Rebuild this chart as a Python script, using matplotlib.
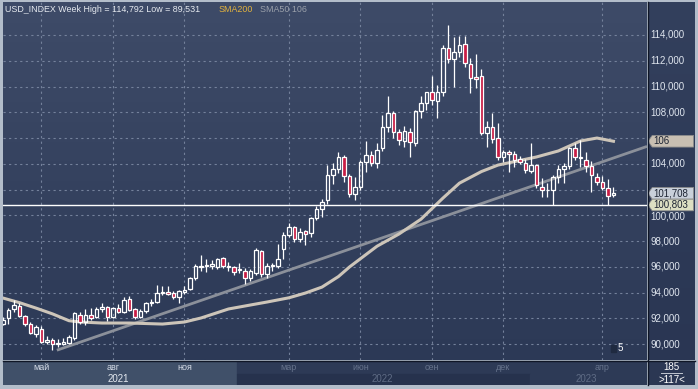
import numpy as np
import matplotlib
matplotlib.use('Agg')
import matplotlib.pyplot as plt
from matplotlib.patches import Rectangle, Polygon
from matplotlib.colors import LinearSegmentedColormap

plt.rcParams['font.family'] = ['Liberation Sans', 'DejaVu Sans']

# weekly USD index candles
opens = [91.6, 92.0, 92.7, 92.97, 92.2, 91.6, 90.8, 91.2, 90.2, 90.3,
         90.0, 90.0, 90.1, 90.5, 92.3, 91.7, 92.25, 92.1, 92.7, 92.9,
         92.1, 92.8, 92.5, 93.5, 92.7, 92.1, 92.55, 93.2, 93.3, 94.0,
         94.05, 94.0, 93.65, 94.05, 94.3, 95.1, 96.0, 96.12, 96.1, 96.0,
         96.7, 96.05, 96.0, 95.75, 95.7, 95.1, 95.55, 97.2, 95.45, 96.05,
         96.1, 97.4, 98.5, 99.1, 98.15, 98.8, 98.6, 99.8, 100.5, 101.2,
         103.1, 103.6, 104.5, 103.05, 101.65, 102.2, 104.15, 104.7, 104.05, 105.2,
         106.85, 107.95, 106.5, 105.8, 106.5, 105.6, 108.1, 108.7, 109.55, 108.9,
         109.55, 113.0, 112.15, 112.7, 113.3, 111.75, 110.7, 110.8, 106.4, 106.85,
         106.0, 104.5, 104.9, 104.75, 104.4, 104.05, 103.45, 103.9, 102.2, 101.95,
         101.95, 103.0, 103.6, 103.85, 105.2, 104.52, 104.3, 103.85, 103.0, 102.6,
         102.1, 101.6]
highs = [92.1, 92.8, 93.4, 93.2, 92.3, 91.7, 91.5, 91.4, 90.6, 90.5,
         90.4, 90.5, 90.7, 92.5, 92.5, 92.7, 92.8, 92.9, 93.2, 93.0,
         92.9, 93.1, 93.65, 93.7, 92.8, 92.7, 93.3, 93.5, 94.6, 94.5,
         94.5, 94.1, 94.2, 94.5, 95.2, 96.2, 96.9, 96.6, 96.5, 96.7,
         96.8, 96.4, 96.1, 96.3, 95.9, 95.8, 97.45, 97.3, 96.3, 96.3,
         97.8, 98.7, 99.4, 99.2, 99.0, 98.9, 99.9, 100.7, 101.3, 103.9,
         104.1, 104.9, 104.7, 103.2, 103.0, 104.3, 105.8, 105.0, 105.6, 107.8,
         109.3, 108.1, 106.7, 106.95, 106.8, 108.2, 109.3, 109.6, 110.8, 110.1,
         113.2, 114.79, 113.85, 113.9, 113.9, 112.2, 112.5, 111.35, 107.3, 107.95,
         107.2, 105.1, 105.1, 105.0, 104.6, 104.4, 105.6, 104.0, 102.9, 102.5,
         103.1, 103.9, 104.1, 105.3, 105.6, 105.85, 104.9, 104.2, 103.3, 103.05,
         102.8, 102.2]
lows = [91.5, 91.6, 92.5, 92.1, 91.4, 90.8, 90.55, 90.1, 90.0, 89.53,
        89.8, 89.9, 90.0, 90.3, 91.6, 91.5, 91.9, 92.0, 92.5, 91.8,
        92.0, 92.4, 92.4, 92.6, 91.95, 92.0, 92.4, 93.0, 93.2, 93.8,
        93.8, 93.5, 93.2, 93.9, 94.2, 95.0, 95.7, 95.6, 95.8, 95.8,
        95.9, 95.7, 95.4, 95.5, 94.7, 94.9, 95.4, 95.2, 95.1, 95.7,
        95.9, 96.6, 98.3, 97.9, 97.9, 97.7, 98.3, 99.6, 99.9, 100.9,
        102.4, 103.3, 102.6, 101.4, 101.2, 102.0, 103.4, 103.8, 103.7, 105.0,
        106.5, 106.0, 105.45, 105.3, 104.5, 105.4, 107.55, 108.2, 108.6, 107.55,
        109.25, 111.8, 110.0, 112.3, 111.5, 109.5, 109.9, 106.25, 105.3, 105.6,
        104.3, 104.15, 103.4, 103.75, 104.0, 103.3, 103.3, 102.1, 101.4, 101.4,
        100.8, 102.5, 102.5, 103.6, 104.3, 103.75, 103.4, 101.8, 102.35, 102.0,
        100.8, 101.4]
closes = [91.9, 92.65, 93.04, 92.2, 91.6, 90.9, 91.3, 90.2, 90.3, 90.0,
          90.1, 90.15, 90.55, 92.4, 91.7, 92.25, 92.0, 92.7, 92.9, 92.1,
          92.8, 92.5, 93.4, 92.65, 92.1, 92.55, 93.2, 93.3, 94.0, 94.05,
          93.9, 93.65, 94.1, 94.2, 95.1, 96.1, 96.05, 96.08, 96.2, 96.6,
          96.1, 96.0, 95.6, 95.85, 95.1, 95.7, 97.3, 95.45, 96.1, 96.15,
          96.6, 98.5, 99.1, 98.2, 98.7, 98.55, 99.8, 100.5, 101.0, 103.1,
          103.6, 104.5, 103.05, 101.65, 102.2, 104.15, 104.7, 104.05, 105.1, 106.85,
          107.95, 106.5, 105.85, 106.55, 105.7, 108.1, 108.7, 109.55, 108.95, 109.55,
          113.0, 112.15, 112.7, 113.2, 111.8, 110.65, 110.62, 106.4, 106.85, 105.9,
          104.5, 104.9, 104.75, 104.3, 104.15, 103.5, 103.9, 102.35, 101.95, 101.98,
          103.0, 103.6, 103.85, 105.2, 104.5, 104.48, 103.85, 103.1, 102.6, 102.1,
          101.5, 101.708]

# SMA50 line (bar index, value)
sma50_idx = [0, 3, 6, 9, 12, 14, 18, 23, 29, 33, 36, 41, 45, 48, 52, 55,
             58, 61, 63, 68, 72, 76, 80, 83, 87, 90, 97, 101, 105, 108, 111]
sma50_val = [93.58, 93.22, 92.8, 92.35, 91.82, 91.72, 91.64, 91.64, 91.56,
             91.72, 92.03, 92.73, 93.04, 93.27, 93.6, 93.97, 94.43, 95.25,
             95.99, 97.6, 98.55, 99.7, 101.34, 102.5, 103.4, 103.9, 104.53,
             105.0, 105.77, 106.0, 105.75]
# SMA200 line (straight, from the low to the right edge)
sma200_idx = [9.8, 117.1]
sma200_val = [89.53, 105.35]

low_line = 100.803
y_ticks = [90, 92, 94, 96, 98, 100, 102, 104, 106, 108, 110, 112, 114]
month_pos = [7, 20, 33, 52, 65, 78, 91, 109]
month_labels = ['май', 'авг', 'ноя', 'мар', 'июн', 'сен', 'дек', 'апр']
year_pos = [21, 69, 106]
year_labels = ['2021', '2022', '2023']

W, H = 698, 389
XMIN, XMAX = 0.0, 117.1
YMIN, YMAX = 88.77, 116.56

def fbox(x0, y0, x1, y1):
    # pixel box (top-left origin) -> figure fraction rect
    return [x0 / W, 1 - y1 / H, (x1 - x0) / W, (y1 - y0) / H]

def bare(a):
    a.set_xticks([])
    a.set_yticks([])
    for s in a.spines.values():
        s.set_visible(False)

fig = plt.figure(figsize=(W / 100, H / 100), dpi=100, facecolor='#b3bdca')

ax = fig.add_axes(fbox(3, 2, 647, 360))
ax.set_xlim(XMIN, XMAX)
ax.set_ylim(YMIN, YMAX)
grad = np.linspace(0, 1, 256).reshape(-1, 1)
bg_cmap = LinearSegmentedColormap.from_list('bg', ['#3e4b68', '#2c3956'])
ax.imshow(grad, cmap=bg_cmap, aspect='auto', extent=(XMIN, XMAX, YMIN, YMAX),
          origin='upper', zorder=0)
bare(ax)

grid_kw = dict(color='#74819b', lw=0.8, linestyle=(0, (2, 3)), zorder=1)
for v in y_ticks:
    ax.axhline(v, **grid_kw)
for p in month_pos:
    ax.axvline(p, **grid_kw)

# lines
ax.plot(sma200_idx, sma200_val, color='#8b909a', lw=2.0, zorder=2, solid_capstyle='butt')
ax.plot(sma50_idx, sma50_val, color='#cdc5b9', lw=2.2, zorder=2)
ax.axhline(low_line, color='white', lw=1.0, zorder=5)

# candles
o = np.array(opens)
c = np.array(closes)
hi = np.array(highs)
lo = np.array(lows)
idx = np.arange(len(c))
up = c >= o
top = np.maximum(o, c)
bot = np.minimum(o, c)
ax.vlines(idx, top, hi, color='white', lw=0.9, zorder=3)
ax.vlines(idx, lo, bot, color='white', lw=0.9, zorder=3)
hgt = np.maximum(top - bot, 0.03)
ax.bar(idx[up], hgt[up], bottom=bot[up], width=0.65, facecolor='none',
       edgecolor='white', lw=0.9, zorder=4)
ax.bar(idx[~up], hgt[~up], bottom=bot[~up], width=0.65, facecolor='#c91d45',
       edgecolor='white', lw=0.9, zorder=4)

# header text
ax.text(0.003, 0.978, 'USD_INDEX Week High = 114,792 Low = 89,531', transform=ax.transAxes,
        color='#e6eaf0', fontsize=6.4, va='center', ha='left')
ax.text(0.335, 0.978, 'SMA200', transform=ax.transAxes, color='#e2b23e',
        fontsize=6.4, va='center', ha='left')
ax.text(0.399, 0.978, 'SMA50 106', transform=ax.transAxes, color='#9ba1ab',
        fontsize=6.4, va='center', ha='left')
ax.add_patch(Rectangle((0.944, 0.022), 0.008, 0.02, transform=ax.transAxes,
                       color='#1f2a40', zorder=6))
ax.text(0.955, 0.02, '5', transform=ax.transAxes, color='white', fontsize=7,
        va='bottom', ha='left', zorder=7)

# right price axis
rax = fig.add_axes(fbox(648, 2, 695, 360))
rax.set_xlim(0, 1)
rax.set_ylim(YMIN, YMAX)
rbg = LinearSegmentedColormap.from_list('rbg', ['#33405d', '#2a3653'])
rax.imshow(grad, cmap=rbg, aspect='auto', extent=(0, 1, YMIN, YMAX), origin='upper', zorder=0)
bare(rax)

tags = [(sma50_val[-1], '%d' % round(sma50_val[-1]), '#c8bfb2'),
        (closes[-1], ('%.3f' % closes[-1]).replace('.', ','), '#c9d0da'),
        (low_line, ('%.3f' % low_line).replace('.', ','), '#dcdfc3')]

for v in y_ticks:
    # labels hidden under a price tag are skipped; the one just below is nudged down
    if any(abs(v - t[0]) < 0.6 for t in tags):
        continue
    yv = v
    near = [t[0] for t in tags if 0 < t[0] - v < 1.0]
    if near:
        yv = v - 0.1
    rax.text(0.05, yv, ('%.3f' % v).replace('.', ','), color='#dfe5ee', fontsize=7,
             va='center', ha='left', zorder=2)

def price_tag(y, label, fc):
    hh = 0.45
    pts = [(0.0, y), (0.09, y + hh), (0.97, y + hh), (0.97, y - hh), (0.09, y - hh)]
    rax.add_patch(Polygon(pts, closed=True, facecolor=fc, edgecolor='#8c8c8c',
                          lw=0.6, zorder=5))
    rax.text(0.12, y, label, color='#1d2433', fontsize=7, va='center', ha='left', zorder=6)

for t in tags:
    price_tag(*t)

# bottom date panel
bax = fig.add_axes(fbox(3, 361, 647, 385))
bax.set_xlim(XMIN, XMAX)
bax.set_ylim(0, 1)
bare(bax)
bax.add_patch(Rectangle((XMIN, 0), 42.5 - XMIN, 1, color='#405069', zorder=0))
bax.add_patch(Rectangle((42.5, 0.45), XMAX - 42.5, 0.55, color='#2d3a56', zorder=0))
bax.add_patch(Rectangle((42.5, 0), 95.8 - 42.5, 0.45, color='#26324d', zorder=0))
bax.add_patch(Rectangle((95.8, 0), XMAX - 95.8, 0.45, color='#2d3a56', zorder=0))
for p, lab in zip(month_pos, month_labels):
    col = '#d3dae5' if p < 42.5 else '#66738c'
    bax.text(p, 0.72, lab, color=col, fontsize=6.5, ha='center', va='center')
for p, lab in zip(year_pos, year_labels):
    col = '#e4e9f0' if p < 42.5 else '#5f6c85'
    bax.text(p, 0.25, lab, color=col, fontsize=7, ha='center', va='center')

# bottom right corner
cax = fig.add_axes(fbox(648, 361, 695, 385))
cax.set_xlim(0, 1)
cax.set_ylim(0, 1)
bare(cax)
cax.set_facecolor('#2b3753')
cax.text(0.5, 0.75, '185', color='white', fontsize=7, ha='center', va='center')
cax.plot([0.28, 0.72], [0.5, 0.5], color='#c0c6d0', lw=0.7)
cax.text(0.5, 0.22, '>117<', color='white', fontsize=7, ha='center', va='center')

# separators
fig.add_artist(plt.Line2D([647.5 / W, 647.5 / W], [1 - 385 / H, 1 - 2 / H], color='#0f1626', lw=1.0))
fig.add_artist(plt.Line2D([3 / W, 695 / W], [1 - 360.5 / H, 1 - 360.5 / H], color='#0f1626', lw=1.0))

fig.savefig('out.png', dpi=100, facecolor=fig.get_facecolor())
